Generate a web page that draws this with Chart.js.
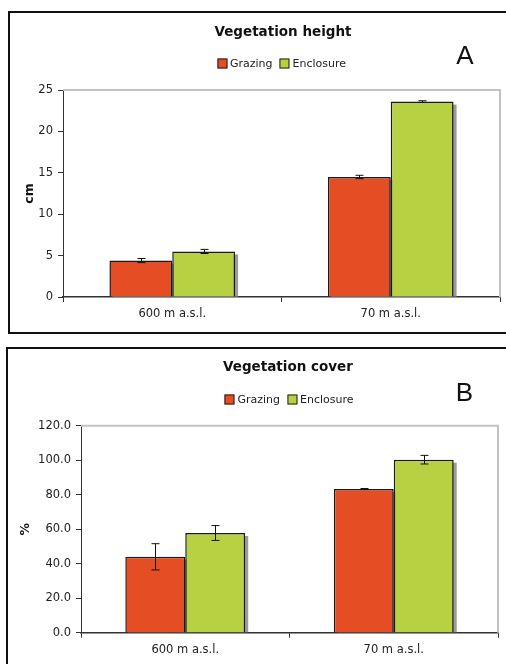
<!DOCTYPE html>
<html><head><meta charset="utf-8">
<script src="https://cdn.jsdelivr.net/npm/chart.js@4.4.1/dist/chart.umd.min.js"></script>
<style>
html,body{margin:0;padding:0;background:#fff;overflow:hidden;width:506px;height:664px;position:relative;}
.box{position:absolute;border:2px solid #111;box-sizing:border-box;}
canvas{position:absolute;left:0;}
.t{position:absolute;transform:translate(-50%,-50%);white-space:nowrap;color:#111;}
.title{font-family:"DejaVu Sans";font-weight:bold;font-size:13.5px;}
.letter{font-family:"Liberation Sans";font-size:26px;color:#111;}
.legend{font-family:"DejaVu Sans";font-size:11px;color:#222;display:flex;align-items:center;}
.legend .sw{display:inline-block;width:8px;height:8px;border:1px solid #222;margin-right:3px;}
.legend .it{display:flex;align-items:center;margin-right:7px;}
.legend .it:last-child{margin-right:0;}
</style>
</head><body>
<div class="box" style="left:8px;top:11px;width:600px;height:323px;"></div>
<div class="box" style="left:6px;top:347px;width:600px;height:400px;"></div>
<canvas id="cA" width="506" height="340" style="top:0;width:506px;height:340px;"></canvas>
<canvas id="cB" width="506" height="324" style="top:340px;width:506px;height:324px;"></canvas>

<div class="t title" style="left:283px;top:31px;">Vegetation height</div>
<div class="t legend" style="left:281.5px;top:63px;"><span class="it"><span class="sw" style="background:#E54D24"></span>Grazing</span><span class="it"><span class="sw" style="background:#B8D143"></span>Enclosure</span></div>
<div class="t letter" style="left:465px;top:55px;">A</div>

<div class="t title" style="left:288px;top:366px;">Vegetation cover</div>
<div class="t legend" style="left:289px;top:399px;"><span class="it"><span class="sw" style="background:#E54D24"></span>Grazing</span><span class="it"><span class="sw" style="background:#B8D143"></span>Enclosure</span></div>
<div class="t letter" style="left:464.5px;top:392px;">B</div>

<script>
// ---- data ----
const categories = ['600 m a.s.l.', '70 m a.s.l.'];
const seriesNames = ['Grazing', 'Enclosure'];

const heightGrazing = [4.4, 14.5];
const heightEnclosure = [5.5, 23.6];
const heightGrazingErr = [0.25, 0.2];
const heightEnclosureErr = [0.25, 0.1];
const heightTicks = [0, 5, 10, 15, 20, 25];

const coverGrazing = [44.0, 83.3];
const coverEnclosure = [57.8, 100.3];
const coverGrazingErr = [7.6, 0.3];
const coverEnclosureErr = [4.3, 2.5];
const coverTicks = [0, 20, 40, 60, 80, 100, 120];

// ---- styling ----
const RED = '#E54D24', GREEN = '#B8D143';
Chart.defaults.font.family = 'DejaVu Sans';
Chart.defaults.font.size = 11.5;
Chart.defaults.color = '#222';

const shadowPlugin = {
  id: 'shadow',
  beforeDatasetsDraw(chart) {
    const ctx = chart.ctx, ca = chart.chartArea;
    ctx.save();
    ctx.strokeStyle = '#c2c2c2'; ctx.lineWidth = 2;
    ctx.beginPath(); ctx.moveTo(ca.left, ca.top); ctx.lineTo(ca.right, ca.top); ctx.lineTo(ca.right, ca.bottom); ctx.stroke();
    ctx.fillStyle = '#9b9b9b';
    chart.data.datasets.forEach((ds, i) => {
      chart.getDatasetMeta(i).data.forEach(bar => {
        const p = bar.getProps(['x', 'y', 'base', 'width'], true);
        ctx.fillRect(p.x - p.width / 2 + 3, p.y + 3, p.width, p.base - p.y - 3);
      });
    });
    ctx.restore();
  },
  afterDatasetsDraw(chart) {
    const ctx = chart.ctx, ys = chart.scales.y;
    ctx.save();
    ctx.strokeStyle = '#111'; ctx.lineWidth = 1;
    chart.data.datasets.forEach((ds, i) => {
      chart.getDatasetMeta(i).data.forEach((bar, j) => {
        const v = ds.data[j], e = ds.errors[j];
        const x = Math.round(bar.x) + 0.5;
        const y1 = ys.getPixelForValue(v + e), y2 = ys.getPixelForValue(v - e);
        ctx.beginPath();
        ctx.moveTo(x, y1); ctx.lineTo(x, y2);
        ctx.moveTo(x - 4, y1); ctx.lineTo(x + 4, y1);
        ctx.moveTo(x - 4, y2); ctx.lineTo(x + 4, y2);
        ctx.stroke();
      });
    });
    ctx.restore();
  }
};

function makeChart(id, g, gErr, en, enErr, ticks, axisTitle, decimals, box) {
  const canvas = document.getElementById(id);
  const W = canvas.width, H = canvas.height;
  return new Chart(canvas, {
    type: 'bar',
    data: {
      labels: categories,
      datasets: [
        { label: seriesNames[0], data: g, errors: gErr, backgroundColor: RED, borderColor: '#1a1a1a', borderWidth: 1.5, categoryPercentage: 0.575, barPercentage: 1 },
        { label: seriesNames[1], data: en, errors: enErr, backgroundColor: GREEN, borderColor: '#1a1a1a', borderWidth: 1.5, categoryPercentage: 0.575, barPercentage: 1 }
      ]
    },
    options: {
      responsive: false, animation: false, devicePixelRatio: 1,
      layout: { padding: { left: 0, top: box.top, right: W - box.right, bottom: 0 } },
      plugins: { legend: { display: false }, title: { display: false }, tooltip: { enabled: false } },
      scales: {
        x: {
          grid: { drawOnChartArea: false, drawTicks: true, tickLength: 5, color: '#333', offset: true },
          border: { color: '#333', width: 1.5 },
          ticks: { padding: 5, color: '#222' },
          afterFit(s) { s.height = H - box.bottom; }
        },
        y: {
          min: ticks[0], max: ticks[ticks.length - 1],
          afterBuildTicks(s) { s.ticks = ticks.map(v => ({ value: v })); },
          grid: { drawOnChartArea: false, drawTicks: true, tickLength: 5, color: '#333' },
          border: { color: '#333', width: 1 },
          ticks: { padding: 5, color: '#222', callback: v => v.toFixed(decimals) },
          title: { display: true, text: axisTitle, font: { weight: 'bold', size: 12.5 }, color: '#111', padding: { top: box.titlePad, bottom: 0 } },
          afterFit(s) { s.width = box.left; }
        }
      }
    },
    plugins: [shadowPlugin]
  });
}

makeChart('cA', heightGrazing, heightGrazingErr, heightEnclosure, heightEnclosureErr, heightTicks, 'cm', 0,
  { left: 63, right: 500, top: 90, bottom: 297, titlePad: 22 });
makeChart('cB', coverGrazing, coverGrazingErr, coverEnclosure, coverEnclosureErr, coverTicks, '%', 1,
  { left: 81, right: 498, top: 85.7, bottom: 292.7, titlePad: 18.5 });
</script>
</body></html>
